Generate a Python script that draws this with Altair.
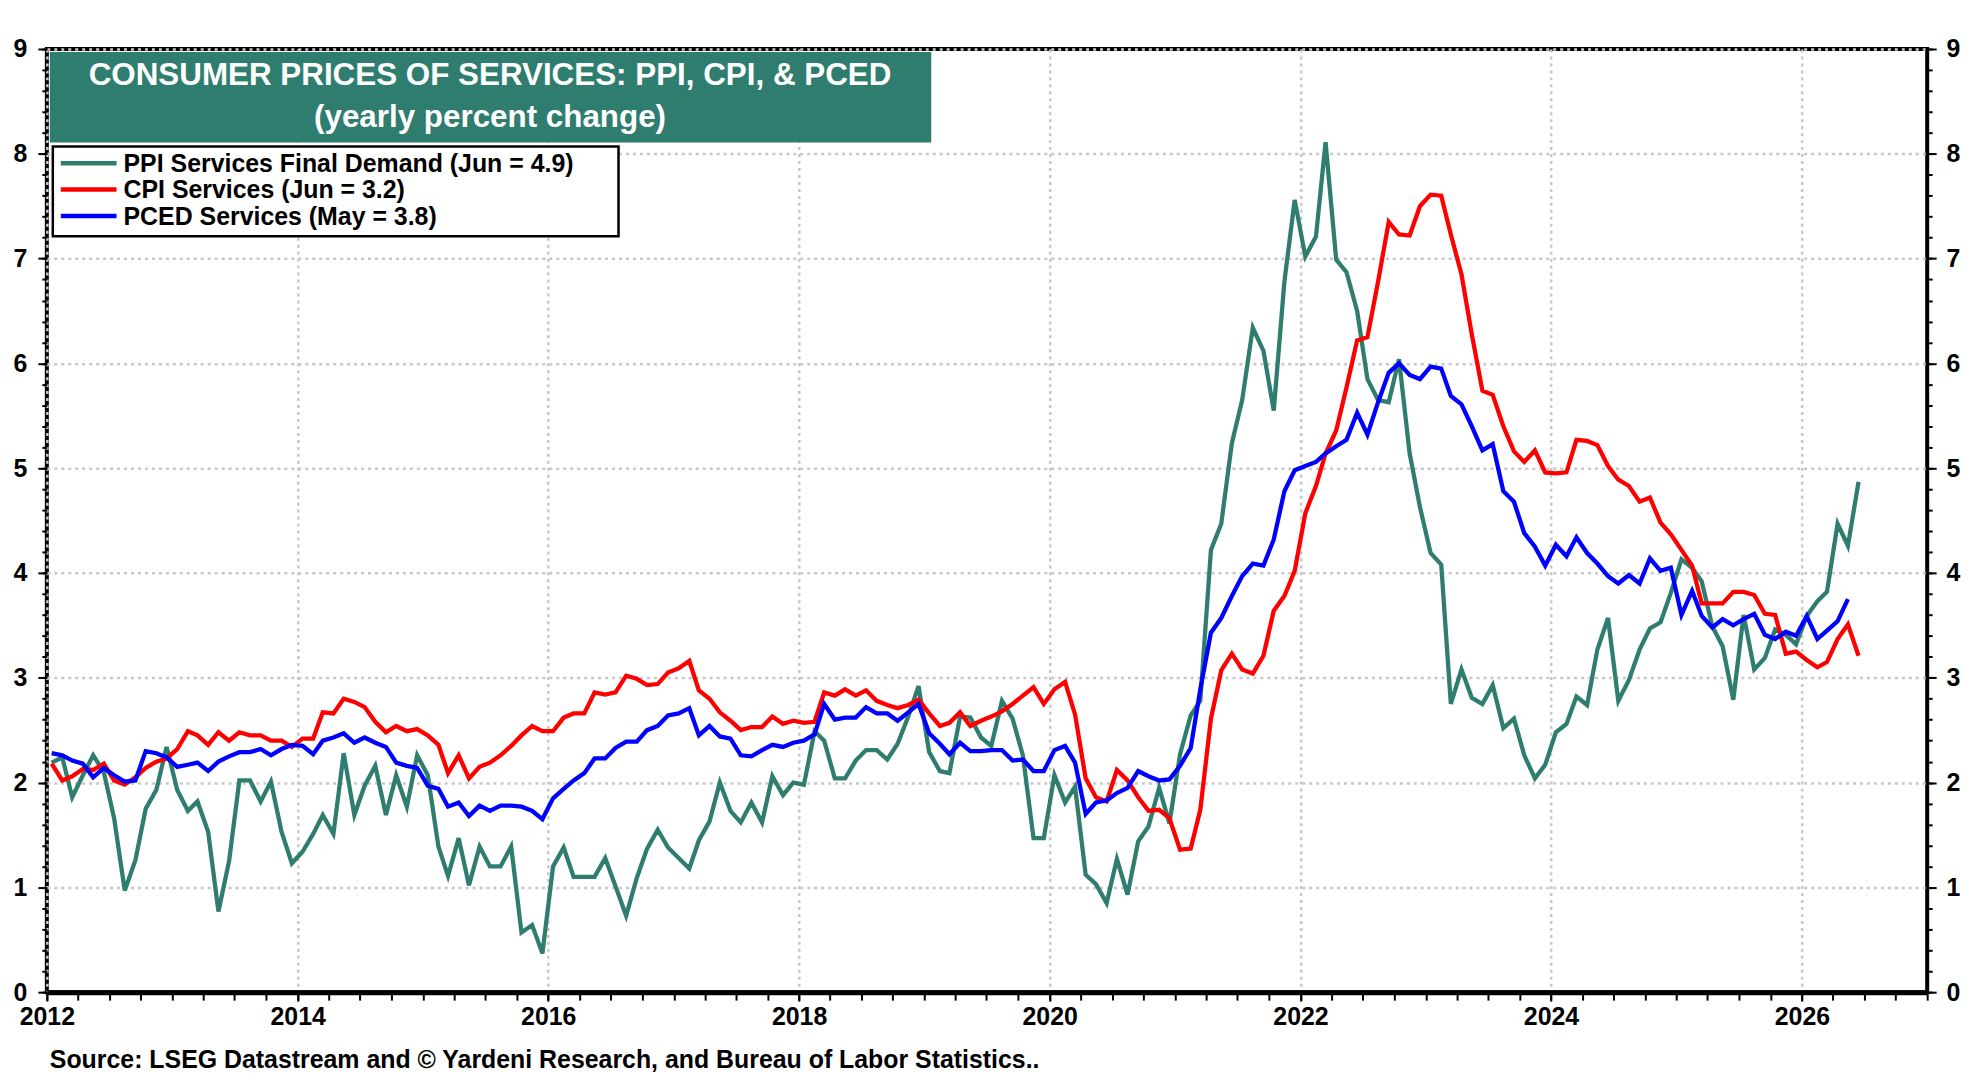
import altair as alt
import pandas as pd

# ---------------- data (monthly, yearly % change) ----------------
ppi = [2.19, 2.24, 1.86, 2.07, 2.26, 2.10, 1.66, 0.97, 1.26, 1.75, 1.93, 2.34,
       1.93, 1.73, 1.82, 1.53, 0.77, 1.25, 2.02, 2.02, 1.82, 2.01, 1.53, 1.23,
       1.34, 1.51, 1.69, 1.51, 2.28, 1.69, 1.97, 2.16, 1.69, 2.07, 1.77, 2.26,
       2.07, 1.39, 1.11, 1.47, 1.02, 1.39, 1.20, 1.20, 1.39, 0.57, 0.64, 0.37,
       1.20, 1.38, 1.10, 1.10, 1.10, 1.28, 1.01, 0.73, 1.09, 1.37, 1.55, 1.38,
       1.28, 1.18, 1.45, 1.63, 2.00, 1.73, 1.62, 1.81, 1.62, 2.06, 1.88, 2.00,
       1.98, 2.49, 2.40, 2.04, 2.04, 2.21, 2.31, 2.31, 2.22, 2.37, 2.63, 2.92,
       2.29, 2.11, 2.09, 2.63, 2.62, 2.43, 2.35, 2.78, 2.61, 2.26, 1.47, 1.47,
       2.07, 1.81, 1.96, 1.12, 1.03, 0.85, 1.27, 0.93, 1.44, 1.58, 1.95, 1.61,
       2.27, 2.64, 2.78, 4.22, 4.47, 5.24, 5.65, 6.34, 6.12, 5.55, 6.78, 7.56,
       7.02, 7.21, 8.11, 6.99, 6.87, 6.50, 5.85, 5.65, 5.63, 6.04, 5.14, 4.63,
       4.19, 4.08, 2.75, 3.08, 2.81, 2.75, 2.93, 2.52, 2.61, 2.26, 2.04, 2.17,
       2.48, 2.56, 2.82, 2.74, 3.27, 3.57, 2.78, 2.98, 3.27, 3.47, 3.53, 3.81,
       4.13, 4.05, 3.92, 3.49, 3.30, 2.79, 3.60, 3.08, 3.19, 3.46, 3.41, 3.32,
       3.59, 3.73, 3.82, 4.47, 4.26, 4.87]

cpi = [2.18, 2.02, 2.06, 2.13, 2.12, 2.18, 2.02, 1.98, 2.05, 2.14, 2.20, 2.23,
       2.32, 2.49, 2.45, 2.36, 2.48, 2.40, 2.48, 2.45, 2.45, 2.40, 2.40, 2.34,
       2.42, 2.42, 2.67, 2.66, 2.80, 2.77, 2.72, 2.58, 2.48, 2.54, 2.49, 2.51,
       2.45, 2.36, 2.09, 2.26, 2.04, 2.15, 2.19, 2.26, 2.35, 2.45, 2.54, 2.49,
       2.49, 2.62, 2.66, 2.66, 2.86, 2.84, 2.86, 3.02, 2.99, 2.93, 2.94, 3.05,
       3.09, 3.16, 2.88, 2.80, 2.67, 2.59, 2.50, 2.53, 2.53, 2.63, 2.56, 2.59,
       2.57, 2.58, 2.86, 2.83, 2.89, 2.83, 2.88, 2.78, 2.74, 2.71, 2.74, 2.79,
       2.66, 2.54, 2.57, 2.67, 2.54, 2.59, 2.63, 2.68, 2.75, 2.83, 2.91, 2.75,
       2.89, 2.96, 2.65, 2.04, 1.86, 1.82, 2.12, 2.02, 1.86, 1.73, 1.74, 1.66,
       1.36, 1.37, 1.74, 2.61, 3.07, 3.23, 3.08, 3.04, 3.21, 3.64, 3.78, 4.02,
       4.57, 4.83, 5.14, 5.36, 5.77, 6.22, 6.25, 6.78, 7.35, 7.23, 7.22, 7.50,
       7.61, 7.60, 7.23, 6.85, 6.28, 5.74, 5.70, 5.40, 5.16, 5.06, 5.17, 4.96,
       4.95, 4.96, 5.27, 5.26, 5.22, 5.02, 4.89, 4.83, 4.68, 4.72, 4.48, 4.37,
       4.22, 4.07, 3.71, 3.71, 3.71, 3.82, 3.82, 3.79, 3.61, 3.60, 3.23, 3.25,
       3.17, 3.10, 3.15, 3.37, 3.51, 3.21]

pced = [2.28, 2.26, 2.21, 2.18, 2.05, 2.14, 2.07, 2.01, 2.02, 2.30, 2.28, 2.24,
        2.15, 2.17, 2.19, 2.11, 2.20, 2.25, 2.29, 2.29, 2.32, 2.26, 2.32, 2.36,
        2.35, 2.27, 2.40, 2.43, 2.47, 2.38, 2.43, 2.38, 2.34, 2.19, 2.16, 2.14,
        1.97, 1.94, 1.77, 1.81, 1.68, 1.78, 1.73, 1.78, 1.78, 1.77, 1.73, 1.65,
        1.85, 1.94, 2.02, 2.09, 2.23, 2.23, 2.33, 2.39, 2.39, 2.50, 2.54, 2.64,
        2.66, 2.71, 2.45, 2.54, 2.44, 2.42, 2.26, 2.25, 2.31, 2.36, 2.34, 2.38,
        2.40, 2.46, 2.75, 2.60, 2.62, 2.62, 2.72, 2.66, 2.66, 2.59, 2.67, 2.75,
        2.47, 2.37, 2.27, 2.38, 2.30, 2.30, 2.31, 2.31, 2.21, 2.22, 2.11, 2.11,
        2.31, 2.35, 2.19, 1.70, 1.81, 1.83, 1.90, 1.95, 2.11, 2.06, 2.02, 2.03,
        2.16, 2.33, 2.89, 3.43, 3.57, 3.78, 3.97, 4.09, 4.07, 4.32, 4.78, 4.98,
        5.02, 5.06, 5.14, 5.21, 5.27, 5.53, 5.32, 5.63, 5.91, 6.00, 5.89, 5.85,
        5.97, 5.95, 5.69, 5.61, 5.40, 5.17, 5.23, 4.78, 4.68, 4.38, 4.25, 4.07,
        4.27, 4.16, 4.34, 4.19, 4.09, 3.97, 3.90, 3.98, 3.90, 4.14, 4.02, 4.05,
        3.60, 3.83, 3.59, 3.48, 3.56, 3.50, 3.56, 3.61, 3.41, 3.37, 3.44, 3.40,
        3.59, 3.37, 3.45, 3.54, 3.75]

series_names = ["PPI Services Final Demand (Jun = 4.9)",
                "CPI Services (Jun = 3.2)",
                "PCED Services (May = 3.8)"]
series_colors = ["#2F7D6F", "#FF0000", "#0000FF"]
series_values = [ppi, cpi, pced]

title_lines = ["CONSUMER PRICES OF SERVICES: PPI, CPI, & PCED", "(yearly percent change)"]
source_text = "Source: LSEG Datastream and \u00a9 Yardeni Research, and Bureau of Labor Statistics.."

y_major = list(range(0, 10))
y_minor = [round(i * 0.2, 1) for i in range(0, 46)]
label_years = list(range(2012, 2027, 2))
quarter_ticks = [(y, m) for y in range(2012, 2027) for m in (1, 4, 7, 10)] + [(2027, 1)]


def month_dates(n):
    return [f"{2012 + i // 12}-{i % 12 + 1:02d}-15" for i in range(n)]


frames = [pd.DataFrame({"date": month_dates(len(v)), "value": v, "series": name})
          for v, name in zip(series_values, series_names)]
df = pd.concat(frames, ignore_index=True)

# ---------------- style ----------------
FONT = "Liberation Sans"
W, H = 1888, 947
GRID = dict(gridColor="#c8c8c8", gridDash=[3, 4], gridWidth=2.5)

xscale = alt.Scale(type="utc",
                   domain=[alt.DateTime(year=2012, month=1, date=1, utc=True),
                           alt.DateTime(year=2027, month=1, date=1, utc=True)])
yscale = alt.Scale(domain=[0, 9], nice=False)

lab = dict(labelFont=FONT, labelFontSize=25, labelFontWeight="bold", labelColor="black",
           labelFlush=False, tickColor="black", tickWidth=2, domain=False, title=None)

x_quarter_axis = alt.Axis(orient="bottom", values=[alt.DateTime(year=y, month=m, date=1, utc=True)
                                                    for y, m in quarter_ticks],
                          labels=False, tickSize=8, grid=False, tickColor="black", tickWidth=2,
                          domain=False, title=None)
x_year_axis = alt.Axis(orient="bottom", values=[alt.DateTime(year=y, month=1, date=1, utc=True) for y in label_years],
                       format="%Y", formatType="utc", tickSize=9, labelPadding=3, grid=True,
                       **GRID, **{k: v for k, v in lab.items() if k != "domain"}, domain=True,
                       domainColor="black", domainWidth=5)
y_left_axis = alt.Axis(orient="left", values=y_major, tickSize=9, labelPadding=11, grid=True, **GRID, **lab)
y_right_axis = alt.Axis(orient="right", values=y_major, tickSize=9, labelPadding=10, grid=False, **lab)
y_left_minor = alt.Axis(orient="left", values=y_minor, tickSize=5, labels=False, grid=False,
                        tickColor="black", tickWidth=2, domain=False, title=None)
y_right_minor = alt.Axis(orient="right", values=y_minor, tickSize=5, labels=False, grid=False,
                         tickColor="black", tickWidth=2, domain=False, title=None)

layers = []
# lines, drawn PPI, CPI, PCED (PCED on top)
for k, (name, color) in enumerate(zip(series_names, series_colors)):
    layers.append(
        alt.Chart(df).transform_filter(alt.datum.series == name)
        .mark_line(color=color, strokeWidth=4.3, strokeJoin="miter", clip=True)
        .encode(
            x=alt.X("date:T", scale=xscale, axis=x_quarter_axis if k == 0 else None),
            y=alt.Y("value:Q", scale=yscale, axis=y_left_axis if k == 0 else None),
        )
    )

anchor = alt.Data(values=[{"date": "2012-01-15", "value": 0}])
layers.append(alt.Chart(anchor).mark_point(opacity=0).encode(
    x=alt.X("date:T", scale=xscale, axis=x_year_axis),
    y=alt.Y("value:Q", scale=yscale, axis=y_right_axis)))
layers.append(alt.Chart(anchor).mark_point(opacity=0).encode(
    x=alt.X("date:T", scale=xscale, axis=None),
    y=alt.Y("value:Q", scale=yscale, axis=y_left_minor)))
layers.append(alt.Chart(anchor).mark_point(opacity=0).encode(
    x=alt.X("date:T", scale=xscale, axis=None),
    y=alt.Y("value:Q", scale=yscale, axis=y_right_minor)))

one = alt.Data(values=[{}])
# title box
layers.append(alt.Chart(one).mark_rect(color="#2F7D6F").encode(
    x=alt.value(3), x2=alt.value(888), y=alt.value(3), y2=alt.value(94)))
for line, yy in zip(title_lines, [27.5, 69]):
    layers.append(alt.Chart(one).mark_text(font=FONT, fontSize=31.5, fontWeight="bold", color="white",
                                           align="center", baseline="middle").encode(
        x=alt.value(445), y=alt.value(yy), text=alt.value(line)))

# legend box
layers.append(alt.Chart(one).mark_rect(fill="white", stroke="black", strokeWidth=2.5).encode(
    x=alt.value(6), x2=alt.value(574), y=alt.value(98), y2=alt.value(188)))
for k, (name, color) in enumerate(zip(series_names, series_colors)):
    yy = 114.6 + 26.5 * k
    layers.append(alt.Chart(one).mark_rule(color=color, strokeWidth=4.5).encode(
        x=alt.value(14), x2=alt.value(70), y=alt.value(yy)))
    layers.append(alt.Chart(one).mark_text(font=FONT, fontSize=25, fontWeight="bold", color="black",
                                           align="left", baseline="middle").encode(
        x=alt.value(77), y=alt.value(yy + 1), text=alt.value(name)))

# source
layers.append(alt.Chart(one).mark_text(font=FONT, fontSize=25, fontWeight="bold", color="black",
                                       align="left", baseline="middle").encode(
    x=alt.value(3), y=alt.value(1015), text=alt.value(source_text)))

chart = (
    alt.layer(*layers)
    .resolve_scale(x="shared", y="shared")
    .resolve_axis(x="independent", y="independent")
    .properties(width=W, height=H,
                padding={"left": 39, "top": 39, "right": 45, "bottom": 78},
                autosize=alt.AutoSizeParams(type="none"),
                background="white")
    .configure_view(stroke="black", strokeWidth=4)
)

chart.save("out.html", embed_options={"renderer": "svg", "actions": False})
